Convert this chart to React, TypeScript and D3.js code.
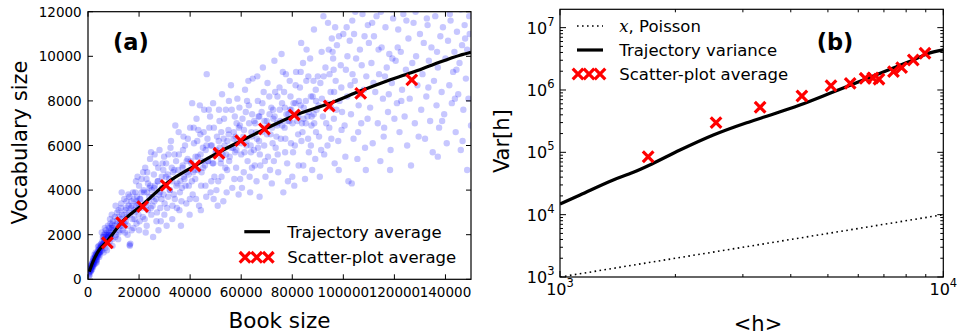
import React from "react";
import * as d3 from "d3";

const FONT = "DejaVu Sans, sans-serif";

// ---------- Panel (a) data ----------
const bookTicks = [0, 20000, 40000, 60000, 80000, 100000, 120000, 140000];
const vocabTicks = [0, 2000, 4000, 6000, 8000, 10000, 12000];

// trajectory average (book size, vocabulary size)
const trajBook = [500, 2000, 4000, 7600, 13200, 21400, 30700, 42000, 51300, 59800, 69000, 80800, 94500, 106800, 116000, 126800, 135300, 145700, 150000];
const trajVocab = [340, 800, 1250, 1720, 2550, 3350, 4300, 5100, 5700, 6200, 6720, 7350, 7880, 8450, 8850, 9270, 9630, 10050, 10180];

// scatter-plot average crosses
const avgBook = [7600, 13200, 21400, 30600, 41900, 51300, 59800, 69100, 80800, 94500, 106800, 126800];
const avgVocab = [1640, 2540, 3260, 4210, 5090, 5650, 6220, 6740, 7370, 7770, 8340, 8940];

// individual books (thousands of words, thousands of distinct words)
const booksNearOrigin: [number, number][] = [
  [0.5,0.3],[0.8,0.45],[1,0.5],[1.2,0.6],[1.5,0.55],[1.6,0.7],[2,0.75],[2.2,0.9],[2.4,0.8],[2.7,1.0],[3,0.95],[3.1,1.1],[3.3,0.85],[3.6,1.2],[3.8,1.05],[4,1.3],[4.2,1.15],[4.5,1.4],[4.7,1.25],[4.9,1.55],
  [1.3,0.4],[1.9,0.6],[2.5,1.1],[3.5,0.9],[4.4,1.0],[0.7,0.2],[1.1,0.35],[2.8,0.7],[3.9,1.45],[4.6,1.1],
  [0.9,0.5],[1.4,0.65],[1.8,0.8],[2.3,0.7],[2.6,0.95],[3.2,1.0],[3.7,1.1],[4.1,1.2],[4.8,1.35],[5.1,1.45],
  [5.2,1.6],[5.5,1.3],[5.8,1.9],[6,1.5],[6.2,2.0],[6.5,1.7],[6.8,1.4],[7,2.2],[7.2,1.8],[7.5,1.6],[7.8,2.4],[8,1.9],[8.2,2.1],[8.5,1.7],[8.8,2.5],[9,2.0],[9.2,2.3],[9.5,1.8],[9.8,2.6],[10,2.2],
  [5.4,2.1],[6.6,2.3],[7.4,1.3],[8.6,2.7],[9.6,1.5],[6.1,1.2],[7.9,2.0],[9.3,2.9],[5.6,1.7],[6.3,1.8],[7.1,1.9],[7.7,2.1],[8.4,2.0],[9.1,2.2],[9.7,2.3],
  [0.3,0.25],[0.6,0.35],[0.9,0.4],[1.2,0.45],[1.5,0.7],[1.7,0.6],[2.1,0.85],[2.3,0.65],[2.6,0.85],[2.9,1.05],[3.2,0.8],[3.4,1.15],[3.7,1.0],[4.0,1.15],[4.3,1.3],[4.6,1.2],[4.9,1.4],[5.3,1.5],[5.7,1.55],[6.4,1.65],
  [6.9,1.75],[7.3,2.0],[2.0,0.95],[1.0,0.6],[3.0,1.2],[4.2,1.5],[5.0,1.25],[6.0,1.9],[6.7,2.05],[7.6,1.85],[8.3,2.3],[8.9,1.95],[9.4,2.45],[5.9,1.6],[3.4,0.75],[2.0,0.55],[1.6,0.45],[0.4,0.15],
];
const booksSpread: [number, number][] = [
  [10.5,2.8],[11,2.0],[11.5,2.5],[12,3.1],[12.3,2.2],[12.8,2.7],[13,3.4],[13.5,2.4],[14,2.9],[14.2,3.6],[14.8,2.6],[15,3.2],[15.5,2.0],[16,3.0],[16.3,1.55],[16.6,1.6],[17,3.5],[17.4,2.7],[18,3.1],[18.5,3.9],[19,2.5],[19.5,3.4],[20,4.2],[10.8,3.3],[11.8,1.8],[13.2,3.9],[14.5,2.1],[15.8,3.8],[17.8,2.3],[18.8,4.4],[19.8,2.9],[12.6,2.5],[16.8,3.2],[19.2,3.7],[20,2.2],[16.4,1.5],
  [20.5,3.6],[21,4.5],[21.5,2.8],[22,3.9],[22.4,5.0],[22.8,3.3],[23,2.4],[23.5,4.3],[24,3.7],[24.3,5.4],[24.8,2.9],[25,4.0],[25.5,1.9],[25.8,4.7],[26,3.5],[26.5,5.2],[27,3.0],[27.3,4.4],[27.8,3.8],[28,5.8],[28.5,2.6],[29,4.1],[29.5,4.9],[30,3.4],[21.2,3.2],[23.2,4.8],[24.6,3.2],[26.2,4.2],[28.8,3.6],[29.8,5.5],[22.6,2.1],[27.6,2.2],
  [30.5,4.6],[31,3.2],[31.5,5.6],[32,4.0],[32.5,6.2],[33,2.7],[33.3,4.8],[34,3.6],[34.5,5.3],[35,4.3],[35.5,6.6],[36,3.9],[36.4,2.4],[37,5.0],[37.5,4.6],[38,6.0],[38.5,3.4],[39,5.4],[39.5,4.2],[40,6.8],[30.8,2.4],[32.8,5.0],[34.2,6.9],[35.8,3.1],[37.2,5.8],[38.8,4.8],[39.8,2.9],[31.8,4.5],[36.8,4.1],[33.6,3.8],
  [40.5,5.2],[41,3.8],[41.5,6.1],[42,4.5],[42.5,7.2],[43,5.5],[43.5,3.3],[44,6.5],[44.5,4.8],[45,5.9],[45.5,7.6],[46,4.2],[46.5,9.2],[47,5.3],[47.5,6.8],[48,3.9],[48.5,6.0],[49,7.9],[49.5,4.6],[50,5.7],[40.8,7.9],[42.8,6.2],[44.2,3.1],[45.8,5.1],[47.8,7.3],[49.2,3.6],[41.8,4.9],[43.8,7.8],[46.8,6.3],[48.8,5.2],
  [50.5,6.4],[51,4.4],[51.5,7.1],[52,5.2],[52.5,8.3],[53,3.5],[53.5,6.0],[54,7.6],[54.5,4.9],[55,6.7],[55.5,5.5],[56,8.7],[56.5,4.1],[57,6.3],[57.5,7.3],[58,5.0],[58.5,8.1],[59,3.8],[59.5,6.9],[60,5.6],[50.8,3.3],[52.2,6.6],[53.8,5.0],[55.2,8.0],[56.8,5.9],[58.2,7.0],[59.6,4.5],[51.6,5.9],[54.6,6.2],[57.8,6.4],
  [60.5,7.2],[61,4.8],[61.5,8.5],[62,6.0],[62.5,5.3],[63,7.8],[63.5,3.9],[64,6.6],[64.5,9.0],[65,5.8],[65.5,7.0],[66,4.4],[66.5,8.0],[67,6.2],[67.5,5.1],[68,7.5],[68.5,9.5],[69,6.0],[69.5,4.6],[70,7.1],[60.8,6.4],[62.8,8.9],[64.2,5.0],[65.8,6.6],[67.2,3.7],[68.8,8.4],[61.8,7.5],[63.8,5.7],[66.8,7.3],[69.2,6.8],
  [70.5,5.5],[71,8.2],[71.5,6.5],[72,4.3],[72.5,7.6],[73,9.8],[73.5,5.9],[74,7.0],[74.5,4.8],[75,8.6],[75.5,6.3],[76,7.9],[76.5,3.9],[77,6.8],[77.5,9.2],[78,5.2],[78.5,7.4],[79,8.9],[79.5,6.1],[80,4.6],[70.8,6.9],[72.8,5.3],[74.2,8.2],[75.8,10.1],[77.2,5.7],[78.8,7.1],[71.8,7.7],[73.8,6.4],[76.8,8.4],[79.6,7.6],
  [80.5,7.9],[81,6.0],[81.5,9.3],[82,7.1],[82.5,5.1],[83,8.6],[83.5,10.6],[84,6.6],[84.5,7.7],[85,4.5],[85.5,8.9],[86,7.3],[86.5,5.7],[87,9.9],[87.5,6.9],[88,8.2],[88.5,11.2],[89,5.4],[89.5,7.6],[90,9.1],[80.8,4.2],[82.6,8.0],[84.2,9.7],[86.2,6.3],[87.8,4.9],[89.2,8.5],[81.6,7.4],[83.6,6.2],[85.6,10.3],[88.6,7.0],
  [90.5,6.4],[91,8.8],[91.5,10.2],[92,7.3],[92.5,5.6],[93,9.5],[93.5,7.9],[94,11.5],[94.5,6.8],[95,8.4],[95.5,10.8],[96,9.9],[96.3,7.2],[96.6,5.2],[97,8.9],[97.5,10.5],[98,6.2],[98.5,8.0],[99,9.6],[99.5,7.5],[100,11.0],[90.8,4.6],[92.2,11.8],[93.8,6.0],[95.2,7.7],[96.8,11.3],[98.2,4.9],[99.2,8.6],[91.6,8.1],[94.6,9.2],[95.8,10.2],[96.2,9.4],
  [100.5,6.9],[101,9.4],[101.5,8.2],[102,4.4],[102.5,10.7],[103,7.4],[103.5,11.6],[104,6.3],[104.5,8.9],[105,9.9],[105.5,5.4],[106,7.8],[106.5,10.3],[107,7.0],[107.5,11.9],[108,8.5],[108.5,5.9],[109,9.1],[109.5,7.2],[110,10.6],[100.8,5.5],[102.8,8.7],[104.2,11.0],[105.8,6.6],[107.2,9.6],[108.8,4.9],[101.6,10.0],[103.6,9.2],[106.6,8.3],[109.6,11.4],[103.3,4.3],
  [110.5,7.7],[111,9.7],[111.5,6.1],[112,10.9],[112.5,8.4],[113,11.8],[113.5,7.0],[114,9.2],[114.5,5.3],[115,10.4],[115.5,8.1],[116,6.8],[116.5,11.3],[117,9.5],[117.5,7.5],[118,10.1],[118.5,5.8],[119,8.8],[119.5,11.7],[120,7.2],[111.8,8.8],[113.8,10.3],[115.8,6.4],[117.8,8.3],[119.2,9.9],[118.3,4.9],
  [120.5,9.8],[121,7.9],[121.5,11.2],[122,6.6],[122.5,10.2],[123,8.5],[123.5,11.9],[124,7.3],[124.5,9.4],[125,6.0],[125.5,10.8],[126,8.1],[126.5,5.1],[127,9.7],[127.5,11.5],[128,7.0],[128.5,10.0],[129,8.7],[129.5,6.4],[130,11.0],
  [130.5,7.6],[131,9.2],[131.5,10.6],[132,6.3],[132.5,8.2],[133,11.4],[133.5,9.8],[134,7.1],[134.5,10.4],[135,5.7],[135.5,8.9],[136,11.8],[136.5,7.8],[137,9.5],[137.5,6.8],[138,10.9],[138.5,8.4],[139,11.3],[139.5,7.4],[140,9.9],[140.5,6.1],[141,10.7],[141.5,8.7],[142,11.6],[142.5,7.9],[143,9.3],[143.5,10.2],[144,6.6],[144.5,11.1],[145,8.3],[145.5,9.7],[146,5.8],[146.5,10.5],[147,7.6],[147.5,11.4],[148,9.0],[148.5,10.3],[149,8.1],[149.5,11.0],[150,6.9],[148.5,4.9],[137,5.5],
  [97,12.3],[105,12.2],[112,12.4],[119,12.1],[131,12.3],[140,12.2],[126,12.2],[146,12.1],
];
const booksCore: [number, number][] = [
  [10.3,2.4],[11.2,2.6],[11.9,2.8],[12.5,2.4],[13.3,2.9],[13.8,2.6],[14.6,3.1],[15.2,2.8],[15.9,3.3],[16.5,2.9],[17.2,3.3],[17.9,3.6],[18.3,3.0],[19.1,3.5],[19.7,3.2],[20.3,3.6],[21.1,3.3],[21.8,4.0],[22.3,3.4],[23.1,3.9],[23.7,3.5],[24.4,4.2],[25.2,3.7],[25.9,4.1],[26.7,3.6],[27.4,4.4],[28.2,3.9],[28.9,4.6],[29.6,3.8],
  [30.3,4.2],[31.2,4.7],[32.1,4.0],[32.9,4.4],[33.8,4.9],[34.6,4.2],[35.3,4.9],[36.2,4.4],[37.1,5.1],[37.8,4.5],[38.6,5.3],[39.4,4.7],[40.2,5.3],[41.2,4.8],[42.1,5.5],[43.1,4.9],[44.1,5.6],[45.1,5.0],[46.1,5.8],[47.1,5.3],[48.1,6.0],[49.1,5.2],
  [50.2,5.8],[51.2,6.2],[52.1,5.4],[53.1,6.3],[54.1,5.6],[55.1,6.5],[56.1,5.9],[57.1,6.6],[58.1,5.8],[59.1,6.8],[60.1,6.1],[61.1,6.7],[62.1,6.2],[63.1,7.0],[64.1,6.4],[65.1,7.1],[66.1,6.3],[67.1,7.3],[68.1,6.6],[69.1,7.1],
  [70.1,6.5],[71.1,7.4],[72.1,6.8],[73.1,7.3],[74.1,6.9],[75.1,7.6],[76.1,6.9],[77.1,7.7],[78.1,7.1],[79.1,7.6],[80.1,7.0],[81.2,7.9],[82.3,7.3],[83.3,7.8],[84.4,7.2],[85.3,8.0],[86.4,7.5],[87.3,8.2],[88.4,7.4],[89.3,8.0],
];
const booksExtra: [number, number][] = [
  [10.7,1.9],[11.4,3.0],[12.1,2.1],[12.9,3.2],[13.6,2.2],[14.3,2.5],[15.1,3.5],[15.6,2.4],[16.2,3.7],[17.1,2.2],[17.6,3.9],[18.2,2.7],[18.9,3.3],[19.4,4.6],[20.2,2.6],[20.9,3.9],[21.6,4.8],[22.2,2.7],[22.9,4.5],[23.4,3.1],
  [24.1,4.1],[24.7,5.7],[25.3,3.3],[26.1,5.6],[26.8,2.6],[27.5,5.0],[28.3,3.2],[29.2,5.2],[29.9,2.9],[30.6,5.2],[31.4,3.7],[32.3,5.9],[33.1,3.3],[33.9,5.6],[34.8,3.2],[35.6,5.6],[36.6,3.5],[37.4,6.4],[38.2,4.2],[39.1,6.3],
  [39.9,3.6],[40.7,4.4],[41.4,6.8],[42.3,3.6],[43.2,6.7],[44.3,4.2],[45.3,6.6],[46.3,3.7],[47.3,7.6],[48.3,4.4],[49.3,6.8],[50.3,4.0],[51.3,7.6],[52.3,4.6],[53.3,7.2],[54.3,3.9],[55.3,5.3],[56.3,7.6],[57.3,4.5],[58.3,6.1],
  [59.3,7.7],[60.3,4.1],[61.3,5.7],[62.3,8.0],[63.3,4.6],[64.3,7.4],[65.3,5.1],[66.3,9.1],[67.3,5.6],[68.3,7.9],[69.3,5.3],[70.3,8.8],[71.3,4.9],[72.3,6.1],[73.3,8.4],[74.3,5.6],[75.3,7.1],[76.3,9.3],[77.3,6.3],[78.3,4.4],
  [79.3,8.2],[80.3,5.7],[81.3,8.7],[82.3,6.5],[83.3,9.3],[84.3,5.1],[85.3,7.0],[86.3,9.1],[87.3,6.0],[88.3,8.9],[89.3,6.6],[90.3,7.8],[91.3,5.8],[92.3,9.1],[93.3,7.0],[94.3,10.3],[95.3,6.3],[96.4,8.4],[97.3,7.6],[98.3,10.9],
  [99.3,6.7],[44.8,5.3],[46.4,6.0],[52.7,5.6],[57.6,5.7],[63.7,6.0],[66.6,5.9],[72.6,7.2],[77.7,7.4],[83.8,7.0],[87.6,7.3],
  [101.3,11.3],[104.7,12.0],[108.3,10.9],[111.3,11.5],[114.7,12.0],[121.3,10.4],[124.7,11.6],[128.3,12.0],[132.7,11.7],[136.7,10.2],[141.7,11.9],[144.3,9.4],[147.7,10.8],[149.3,11.8],[116.3,9.1],[122.7,8.0],[133.3,8.6],[138.7,7.1],[143.7,8.1],[146.7,6.2],
];

// ---------- Panel (b) data ----------
const hTicks = [1000, 10000];
const varTicks = [1e3, 1e4, 1e5, 1e6, 1e7];
const trajH = [1000, 1128, 1377, 1554, 1698, 2056, 2512, 3069, 3392, 4225, 5060, 6180, 7550, 8350, 9060, 10000];
const trajVar = [1.48e4, 2.07e4, 3.6e4, 4.79e4, 6.1e4, 1.09e5, 1.9e5, 2.99e5, 3.65e5, 5.74e5, 8.85e5, 1.45e6, 2.36e6, 3.03e6, 3.78e6, 4.39e6];
const avgH = [1698, 2553, 3327, 4276, 5093, 5716, 6254, 6549, 6795, 7413, 7786, 8350, 8958];
const avgVar = [8.5e4, 2.99e5, 5.28e5, 8.0e5, 1.17e6, 1.28e6, 1.54e6, 1.56e6, 1.49e6, 1.97e6, 2.28e6, 3.03e6, 3.88e6];
const poissonH = [1000, 10000];

function Cross({ cx, cy }: { cx: number; cy: number }) {
  const s = 5.3;
  return (
    <path
      d={`M${cx - s},${cy - s}L${cx + s},${cy + s}M${cx - s},${cy + s}L${cx + s},${cy - s}`}
      stroke="#ff0000"
      strokeWidth={3.2}
      fill="none"
    />
  );
}

export default function App() {
  // Panel (a) geometry
  const aL = 88, aR = 471, aT = 11.7, aB = 279.3;
  const xA = d3.scaleLinear().domain([0, 150000]).range([aL, aR]);
  const yA = d3.scaleLinear().domain([0, 12000]).range([aB, aT]);

  // Panel (b) geometry
  const bL = 560, bR = 943.3, bT = 9.3, bB = 277;
  const xB = d3.scaleLog().domain([1000, 10000]).range([bL, bR]);
  const yB = d3.scaleLog().domain([1000, 1.97e7]).range([bB, bT]);

  const lineA = d3
    .line<number>()
    .x((_, i) => xA(trajBook[i]))
    .y((d) => yA(d))
    .curve(d3.curveMonotoneX);
  const lineB = d3
    .line<number>()
    .x((_, i) => xB(trajH[i]))
    .y((d) => yB(d))
    .curve(d3.curveMonotoneX);
  const poissonLine = d3
    .line<number>()
    .x((d) => xB(d))
    .y((d) => yB(d));

  const minorX: number[] = [];
  for (let m = 2; m <= 9; m++) minorX.push(m * 1000);
  const minorY: number[] = [];
  for (let k = 3; k <= 7; k++)
    for (let m = 2; m <= 9; m++) {
      const v = m * Math.pow(10, k);
      if (v <= 1.97e7) minorY.push(v);
    }

  const allBooks = [...booksNearOrigin, ...booksSpread, ...booksCore, ...booksExtra];
  const supExp = (v: number) => String(Math.round(Math.log10(v)));

  return (
    <svg
      width={957}
      height={336}
      style={{ position: "fixed", left: 0, top: 0, background: "#fff" }}
      fontFamily={FONT}
    >
      <rect x={0} y={0} width={957} height={336} fill="#fff" />
      <defs>
        <clipPath id="clipA">
          <rect x={aL} y={aT} width={aR - aL} height={aB - aT} />
        </clipPath>
        <clipPath id="clipB">
          <rect x={bL} y={bT} width={bR - bL} height={bB - bT} />
        </clipPath>
      </defs>

      {/* ================= Panel (a) ================= */}
      <g clipPath="url(#clipA)">
        {allBooks.map((p, i) => (
          <circle key={i} cx={xA(p[0] * 1000)} cy={yA(p[1] * 1000)} r={3.2} fill="#0000ff" fillOpacity={0.22} />
        ))}
        <path d={lineA(trajVocab) || ""} fill="none" stroke="#000" strokeWidth={3.2} />
        {avgBook.map((b, i) => (
          <Cross key={i} cx={xA(b)} cy={yA(avgVocab[i])} />
        ))}
      </g>
      <rect x={aL} y={aT} width={aR - aL} height={aB - aT} fill="none" stroke="#000" strokeWidth={1.2} />
      {bookTicks.map((t) => (
        <g key={"bx" + t}>
          <line x1={xA(t)} x2={xA(t)} y1={aB} y2={aB - 5} stroke="#000" />
          <line x1={xA(t)} x2={xA(t)} y1={aT} y2={aT + 5} stroke="#000" />
          <text x={xA(t)} y={296.7} fontSize={13.5} textAnchor="middle" fill="#000">
            {t}
          </text>
        </g>
      ))}
      {vocabTicks.map((t) => (
        <g key={"vy" + t}>
          <line x1={aL} x2={aL + 5} y1={yA(t)} y2={yA(t)} stroke="#000" />
          <line x1={aR} x2={aR - 5} y1={yA(t)} y2={yA(t)} stroke="#000" />
          <text x={81.7} y={yA(t) + 5} fontSize={13.5} textAnchor="end" fill="#000">
            {t}
          </text>
        </g>
      ))}
      <text x={(aL + aR) / 2} y={327.7} fontSize={21.5} textAnchor="middle" fill="#000">
        Book size
      </text>
      <text
        transform={`translate(27,${(aT + aB) / 2 - 3}) rotate(-90)`}
        fontSize={21}
        textAnchor="middle"
        fill="#000"
      >
        Vocabulary size
      </text>
      <text x={113} y={50} fontSize={22.5} fontWeight="bold" fill="#000">
        (a)
      </text>
      {/* legend (a) */}
      <line x1={244.3} x2={270} y1={231.7} y2={231.7} stroke="#000" strokeWidth={3.2} />
      <text x={287.3} y={238} fontSize={16.5} fill="#000">
        Trajectory average
      </text>
      {[245, 256.7, 268.3].map((cx) => (
        <Cross key={"la" + cx} cx={cx} cy={257.3} />
      ))}
      <text x={287.3} y={262.5} fontSize={16.5} fill="#000">
        Scatter-plot average
      </text>

      {/* ================= Panel (b) ================= */}
      <g clipPath="url(#clipB)">
        <path d={poissonLine(poissonH) || ""} fill="none" stroke="#000" strokeWidth={1.6} strokeDasharray="1.6 3.4" />
        <path d={lineB(trajVar) || ""} fill="none" stroke="#000" strokeWidth={3.2} />
        {avgH.map((h, i) => (
          <Cross key={i} cx={xB(h)} cy={yB(avgVar[i])} />
        ))}
      </g>
      <rect x={bL} y={bT} width={bR - bL} height={bB - bT} fill="none" stroke="#000" strokeWidth={1.2} />
      {minorX.map((t) => (
        <g key={"mx" + t}>
          <line x1={xB(t)} x2={xB(t)} y1={bB} y2={bB - 3} stroke="#000" />
          <line x1={xB(t)} x2={xB(t)} y1={bT} y2={bT + 3} stroke="#000" />
        </g>
      ))}
      {minorY.map((t) => (
        <g key={"my" + t}>
          <line x1={bL} x2={bL + 3} y1={yB(t)} y2={yB(t)} stroke="#000" />
          <line x1={bR} x2={bR - 3} y1={yB(t)} y2={yB(t)} stroke="#000" />
        </g>
      ))}
      {hTicks.map((t) => (
        <g key={"hx" + t}>
          <line x1={xB(t)} x2={xB(t)} y1={bB} y2={bB - 6} stroke="#000" />
          <line x1={xB(t)} x2={xB(t)} y1={bT} y2={bT + 6} stroke="#000" />
          <text x={xB(t)} y={295} fontSize={16} textAnchor="middle" fill="#000">
            <tspan>10</tspan>
            <tspan dy={-8} fontSize={11.5}>{supExp(t)}</tspan>
          </text>
        </g>
      ))}
      {varTicks.map((t) => (
        <g key={"vy" + t}>
          <line x1={bL} x2={bL + 6} y1={yB(t)} y2={yB(t)} stroke="#000" />
          <line x1={bR} x2={bR - 6} y1={yB(t)} y2={yB(t)} stroke="#000" />
          <text x={554.5} y={yB(t) + 6} fontSize={16} textAnchor="end" fill="#000">
            <tspan>10</tspan>
            <tspan dy={-8} fontSize={11.5}>{supExp(t)}</tspan>
          </text>
        </g>
      ))}
      <text x={758} y={331} fontSize={21} textAnchor="middle" fill="#000">
        {"<h>"}
      </text>
      <text
        transform={`translate(508.6,${(bT + bB) / 2 - 2}) rotate(-90)`}
        fontSize={21}
        textAnchor="middle"
        fill="#000"
      >
        Var[h]
      </text>
      <text x={816.7} y={50} fontSize={22.5} fontWeight="bold" fill="#000">
        (b)
      </text>
      {/* legend (b) */}
      <line x1={577} x2={603} y1={26} y2={26} stroke="#000" strokeWidth={1.6} strokeDasharray="1.6 3.4" />
      <text x={619.3} y={32} fontSize={16.5} fill="#000">
        <tspan fontFamily="DejaVu Serif, serif" fontStyle="italic">x</tspan>
        <tspan>, Poisson</tspan>
      </text>
      <line x1={577} x2={603} y1={50} y2={50} stroke="#000" strokeWidth={3.2} />
      <text x={619.3} y={56} fontSize={16.5} fill="#000">
        Trajectory variance
      </text>
      {[578, 589, 600].map((cx) => (
        <Cross key={"lb" + cx} cx={cx} cy={74} />
      ))}
      <text x={619.3} y={80} fontSize={16.5} fill="#000">
        Scatter-plot average
      </text>
    </svg>
  );
}
